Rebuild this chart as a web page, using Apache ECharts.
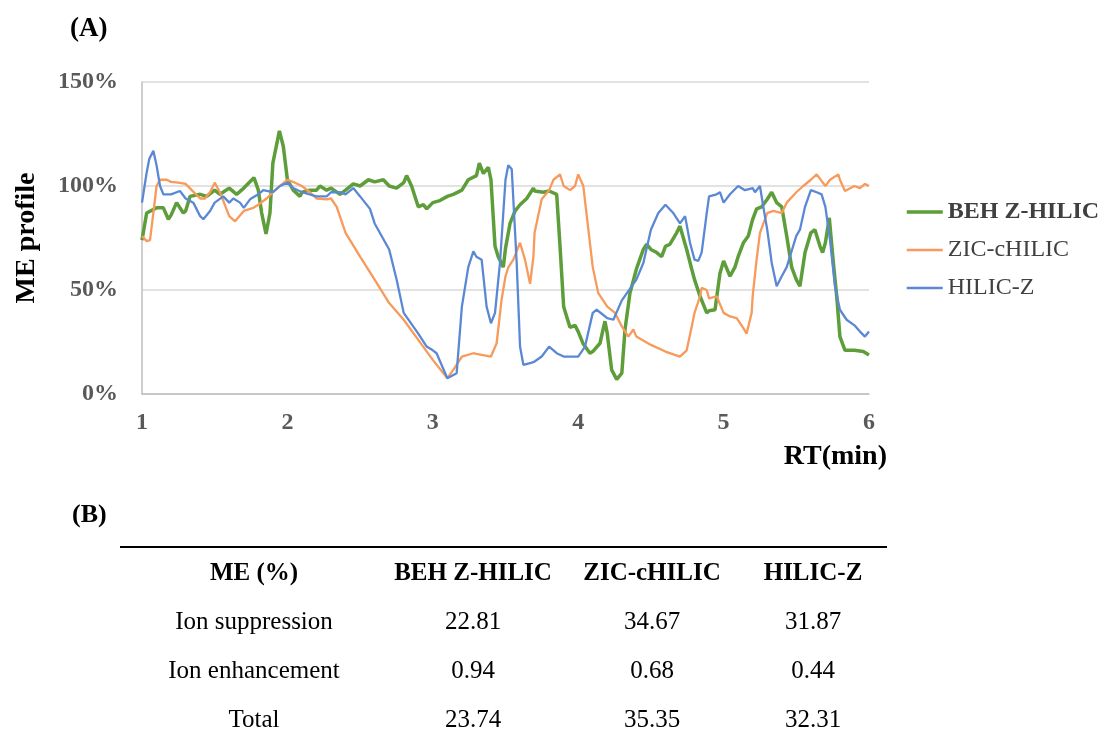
<!DOCTYPE html>
<html>
<head>
<meta charset="utf-8">
<script src="https://cdn.jsdelivr.net/npm/echarts@6/dist/echarts.min.js"></script>
<style>
  html, body { margin: 0; padding: 0; background: #fff; }
  #main { width: 1102px; height: 737px; }
</style>
</head>
<body>
<div id="main"></div>
<script>
// series: [RT (min), ME (%)]
const behZHilic = [
  [1.0,74],[1.032,87],[1.1,89.5],[1.147,89.5],[1.181,84],[1.2,86],[1.238,92],[1.284,87],[1.3,88],[1.33,95],
  [1.4,96],[1.445,95],[1.5,98],[1.536,96],[1.6,99],[1.651,96],[1.7,99],[1.77,104],[1.8,98],[1.823,87],
  [1.853,77],[1.88,87],[1.9,111],[1.945,126.5],[1.972,119],[2.0,103],[2.04,98],[2.087,95],[2.1,97],[2.155,98],
  [2.2,98],[2.224,100],[2.27,98],[2.3,99],[2.362,96],[2.4,98],[2.453,101],[2.5,100],[2.557,103],[2.6,102],
  [2.66,103],[2.7,100],[2.751,99],[2.8,101.6],[2.82,105],[2.854,100],[2.9,90],[2.935,91],[2.958,89],[3.0,92],
  [3.049,93],[3.1,95],[3.141,96],[3.2,98],[3.244,103],[3.3,105],[3.32,111],[3.348,106],[3.382,109],[3.4,103],
  [3.428,71],[3.45,66],[3.485,61],[3.5,70],[3.531,82],[3.566,88],[3.6,91],[3.646,94],[3.692,99],[3.7,97.6],
  [3.761,97],[3.8,97.6],[3.852,96],[3.875,71],[3.9,42],[3.944,32],[3.978,33],[4.0,30],[4.035,24],[4.081,19.6],
  [4.1,20.4],[4.15,24.4],[4.184,35],[4.2,29],[4.23,11.6],[4.265,7],[4.3,10],[4.322,31],[4.356,48.5],[4.4,60],
  [4.448,69.5],[4.471,72],[4.5,69.5],[4.54,68],[4.574,66],[4.6,71],[4.631,72],[4.677,77.5],[4.7,80.7],[4.746,69.5],
  [4.781,60],[4.8,55],[4.838,47],[4.884,39],[4.9,40],[4.941,40.5],[4.975,58],[5.0,64],[5.044,56.6],[5.078,61],
  [5.1,66],[5.136,72.7],[5.17,76],[5.2,84],[5.227,89],[5.262,90],[5.3,93.6],[5.331,97],[5.365,92],[5.4,90],
  [5.434,76],[5.468,61],[5.5,55],[5.525,51.8],[5.56,68],[5.6,77.5],[5.628,79],[5.663,71],[5.681,68],[5.7,72.7],
  [5.727,84.7],[5.755,63],[5.778,47],[5.8,27.6],[5.835,21],[5.9,21],[5.961,20.4],[6.0,18.8]
];

const zicCHilic = [
  [1.0,76],[1.032,73.5],[1.055,74],[1.078,87],[1.1,100],[1.124,103],[1.17,103],[1.2,102],[1.25,101.6],[1.3,101],
  [1.342,98],[1.4,94],[1.433,94],[1.468,97],[1.5,101.6],[1.536,97],[1.6,85.5],[1.64,83],[1.7,88],[1.766,89.5],
  [1.8,91],[1.857,94],[1.9,97],[1.949,100],[2.0,103],[2.052,101.6],[2.1,100],[2.155,97],[2.2,94],[2.27,93.6],
  [2.3,94],[2.339,90],[2.4,77.5],[2.5,66],[2.6,55],[2.7,43.7],[2.8,35.7],[2.9,26],[3.0,16.4],[3.1,7.6],
  [3.141,11.6],[3.2,18],[3.279,19.6],[3.3,19.3],[3.4,18],[3.439,24.4],[3.473,45.3],[3.5,56.6],[3.52,61],[3.554,64.6],
  [3.6,72.7],[3.634,64.6],[3.669,53],[3.692,66],[3.7,77.5],[3.749,93.6],[3.8,98],[3.83,103],[3.875,105.6],[3.9,100],
  [3.944,98],[3.978,100],[4.0,105.6],[4.035,100],[4.07,79],[4.1,61],[4.138,48.5],[4.2,42],[4.253,39],[4.3,32.5],
  [4.345,27.6],[4.379,31],[4.4,27.6],[4.5,23.6],[4.6,20.4],[4.7,18],[4.746,21],[4.781,32.5],[4.8,39],[4.838,47],
  [4.849,51],[4.884,50],[4.9,46],[4.952,47],[5.0,39],[5.044,37.3],[5.09,36.5],[5.1,35.7],[5.136,31.7],[5.158,29],
  [5.193,39],[5.2,47],[5.227,64.6],[5.25,77.5],[5.3,87],[5.342,88],[5.4,87],[5.434,92],[5.5,97],[5.548,100],
  [5.6,103],[5.64,105.6],[5.7,100],[5.732,103],[5.789,105.6],[5.8,103],[5.835,97.6],[5.9,100],[5.938,99],[5.972,101],
  [6.0,100]
];

const hilicZ = [
  [1.0,92],[1.032,106.4],[1.05,113],[1.078,117],[1.1,110],[1.124,100],[1.147,96],[1.2,96],[1.261,97.6],[1.3,94],
  [1.353,92],[1.4,85.5],[1.422,84],[1.468,88],[1.5,92],[1.559,95],[1.6,92],[1.628,94],[1.674,92],[1.7,89.5],
  [1.743,93.6],[1.8,96],[1.834,98],[1.9,97],[1.949,100],[2.0,101.6],[2.04,99],[2.1,97],[2.2,95],[2.27,95],
  [2.3,97],[2.362,97],[2.4,96],[2.453,99],[2.5,95],[2.568,89],[2.6,82],[2.7,69.5],[2.751,55],[2.8,39],
  [2.9,29],[2.958,22.8],[3.0,21],[3.026,19.6],[3.1,7.6],[3.164,10],[3.2,42],[3.244,61],[3.279,68.6],[3.3,66],
  [3.336,64.6],[3.37,42],[3.4,34],[3.428,39],[3.462,63],[3.5,103],[3.519,110],[3.543,108],[3.577,63],[3.6,22.8],
  [3.623,14],[3.669,14.8],[3.7,15.6],[3.749,18],[3.8,22.8],[3.852,19.6],[3.9,18],[4.0,18],[4.047,22.8],[4.1,39],
  [4.127,40.5],[4.2,36.5],[4.242,35.7],[4.3,45],[4.4,55],[4.448,63],[4.5,79],[4.551,87],[4.6,91],[4.654,87],
  [4.7,82],[4.735,85.5],[4.769,72.7],[4.8,64.6],[4.826,64],[4.849,68],[4.884,87],[4.9,95],[4.952,96],[4.975,97],
  [5.0,92],[5.044,96],[5.1,100],[5.147,98],[5.2,99],[5.216,97],[5.25,100],[5.273,90],[5.3,79],[5.331,63],
  [5.365,51.8],[5.4,56.6],[5.434,61],[5.5,76],[5.525,79],[5.56,90],[5.6,98],[5.64,97],[5.674,96],[5.7,90],
  [5.732,74],[5.766,51.8],[5.8,40.5],[5.846,35.7],[5.9,33],[5.938,30],[5.972,27.6],[6.0,30]
];

const seriesNames = ['BEH Z-HILIC', 'ZIC-cHILIC', 'HILIC-Z'];

// table (B)
const tableHeader = ['ME (%)', 'BEH Z-HILIC', 'ZIC-cHILIC', 'HILIC-Z'];
const rowLabels = ['Ion suppression', 'Ion enhancement', 'Total'];
const suppression = ['22.81', '34.67', '31.87'];
const enhancement = ['0.94', '0.68', '0.44'];
const totals = ['23.74', '35.35', '32.31'];

const serif = '"Liberation Serif", "Times New Roman", serif';
const chart = echarts.init(document.getElementById('main'));

const colX = [254, 473, 652, 813];
const rowY = [574, 622, 671, 720];
const tableRows = [suppression, enhancement, totals];

const graphics = [
  { type: 'text', left: 70, top: 16, style: { text: '(A)', font: 'bold 27px ' + serif, fill: '#000' } },
  { type: 'text', left: 72, top: 502, style: { text: '(B)', font: 'bold 26px ' + serif, fill: '#000' } },
  { type: 'text', x: 887, y: 457, style: { text: 'RT(min)', font: 'bold 28px ' + serif, fill: '#000', align: 'right', verticalAlign: 'middle' } },
  { type: 'line', shape: { x1: 120, y1: 547, x2: 887, y2: 547 }, style: { stroke: '#000', lineWidth: 2 } }
];
tableHeader.forEach((h, i) => {
  graphics.push({ type: 'text', x: colX[i], y: rowY[0], style: { text: h, font: 'bold 25px ' + serif, fill: '#000', align: 'center', verticalAlign: 'middle' } });
});
rowLabels.forEach((lab, r) => {
  graphics.push({ type: 'text', x: colX[0], y: rowY[r + 1], style: { text: lab, font: '25px ' + serif, fill: '#000', align: 'center', verticalAlign: 'middle' } });
  tableRows[r].forEach((v, c) => {
    graphics.push({ type: 'text', x: colX[c + 1], y: rowY[r + 1], style: { text: v, font: '25px ' + serif, fill: '#000', align: 'center', verticalAlign: 'middle' } });
  });
});

chart.setOption({
  animation: false,
  color: ['#5E9E3A', '#F79A5B', '#5B88D4'],
  grid: { left: 142, top: 82, width: 727, height: 312, containLabel: false },
  legend: {
    orient: 'vertical',
    left: 905,
    top: 200,
    padding: 0,
    itemWidth: 36,
    itemHeight: 14,
    itemGap: 14,
    itemStyle: { opacity: 0 },
    textStyle: { fontFamily: serif, fontSize: 24, color: '#404040' },
    data: [
      { name: seriesNames[0], textStyle: { fontWeight: 'bold' }, lineStyle: { width: 3.5 } },
      { name: seriesNames[1], lineStyle: { width: 2.5 } },
      { name: seriesNames[2], lineStyle: { width: 2.5 } }
    ]
  },
  xAxis: {
    type: 'value',
    min: 1,
    max: 6,
    interval: 1,
    axisLine: { show: true, lineStyle: { color: '#bfbfbf', width: 1.5 } },
    axisTick: { show: false },
    splitLine: { show: false },
    axisLabel: { margin: 17, fontFamily: serif, fontSize: 24, fontWeight: 'bold', color: '#595959' }
  },
  yAxis: {
    type: 'value',
    min: 0,
    max: 150,
    interval: 50,
    name: 'ME profile',
    nameLocation: 'middle',
    nameRotate: 90,
    nameGap: 101,
    nameTextStyle: { fontFamily: serif, fontSize: 28, fontWeight: 'bold', color: '#000' },
    axisLine: { show: true, lineStyle: { color: '#bfbfbf', width: 1.5 } },
    axisTick: { show: false },
    splitLine: { lineStyle: { color: '#d9d9d9', width: 1.5 } },
    axisLabel: { margin: 24, formatter: '{value}%', fontFamily: serif, fontSize: 24, fontWeight: 'bold', color: '#595959' }
  },
  series: [
    { name: seriesNames[0], type: 'line', data: behZHilic, symbol: 'none', lineStyle: { width: 3.5 } },
    { name: seriesNames[1], type: 'line', data: zicCHilic, symbol: 'none', lineStyle: { width: 2.3 } },
    { name: seriesNames[2], type: 'line', data: hilicZ, symbol: 'none', lineStyle: { width: 2.3 } }
  ],
  graphic: graphics
});
</script>
</body>
</html>
